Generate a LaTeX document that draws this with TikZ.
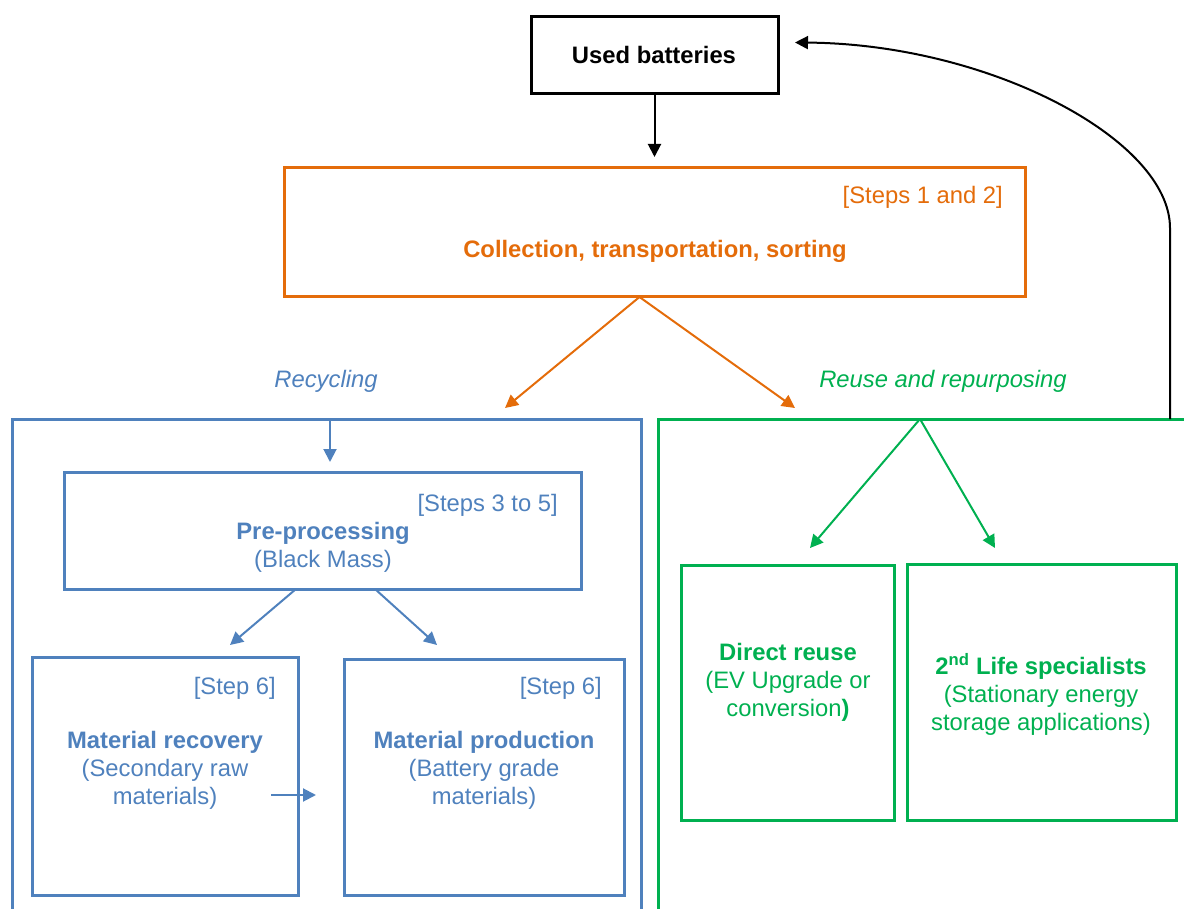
\documentclass[tikz,border=0pt]{standalone}
\usepackage{fontspec}
\setmainfont{Liberation Sans}
\usepackage{tikz}
\usetikzlibrary{arrows,arrows.meta,positioning,calc}
\definecolor{recblue}{HTML}{4F81BD}
\definecolor{collorange}{HTML}{E46C0A}
\definecolor{reusegreen}{HTML}{00B050}
\tikzstyle{stepbox}=[draw,line width=3pt,inner sep=0pt,outer sep=0pt]
\tikzstyle{txt}=[inner sep=0pt,align=center]
\tikzstyle{arr}=[line width=2pt,-{Triangle[length=13pt,width=13pt]}]

\begin{document}
\begin{tikzpicture}[x=1pt,y=-1pt,font=\fontsize{23.8}{28}\selectfont]
\useasboundingbox (0,0) rectangle (1184,909);
% used batteries and collection
\node [stepbox, minimum width=247pt, minimum height=77pt] (used) at (654.5,55.5) {};
\node [txt, anchor=base] (usedtext) at (654,64) {\textbf{Used batteries}};
\node [stepbox, draw=collorange, minimum width=741pt, minimum height=129pt] (coll) at (654.5,232.5) {};
\node [txt, anchor=base east, text=collorange] (collstep) at (1003,204) {[Steps 1 and 2]};
\node [txt, anchor=base, text=collorange] (colltext) at (655,258) {\textbf{Collection, transportation, sorting}};
\draw [arr, shorten >=11pt] (used) -- (coll);

% the two branches
\node [txt, anchor=base, text=recblue] (reclabel) at (326,388) {\itshape Recycling};
\node [txt, anchor=base, text=reusegreen] (reuselabel) at (943,388) {\itshape Reuse and repurposing};
\node [stepbox, draw=recblue, anchor=north west, minimum width=629pt, minimum height=600pt] (recycle) at (12,419) {};
\node [stepbox, draw=reusegreen, anchor=north west, minimum width=600pt, minimum height=600pt] (reuse) at (658,419) {};
\coordinate (split) at ($(coll.south)+(-15,0)$);
\coordinate (recin) at ($(recycle.north east)+(-136,-11)$);
\coordinate (reusein) at ($(reuse.north west)+(137,-11)$);
\draw [arr, collorange] (split) -- (recin);
\draw [arr, collorange] (split) -- (reusein);

% back to used batteries
\coordinate (back) at ($(reuse.north west)+(512,0)$);
\coordinate (usedin) at ($(used.east)+(17,-13)$);
\draw [arr] (back) -- (1170,228) .. controls (1170,140) and (990,44) .. (usedin);

% recycling
\node [stepbox, draw=recblue, minimum width=517pt, minimum height=117pt] (pre) at (322.5,530.5) {};
\node [txt, anchor=base east, text=recblue] (prestep) at (558,511) {[Steps 3 to 5]};
\node [txt, text=recblue] (pretext) at (323,547.5) {\textbf{Pre-processing}\\(Black Mass)};
\coordinate (recdown) at ($(recycle.north west)+(318,0)$);
\coordinate (prein) at ($(pre.north)+(7.5,-10)$);
\draw [arr, recblue] (recdown) -- (prein);

\node [stepbox, draw=recblue, minimum width=266pt, minimum height=238pt] (mrec) at (165,776) {};
\node [txt, anchor=base east, text=recblue] (mrecstep) at (276,694) {[Step 6]};
\node [txt, text=recblue] (mrectext) at (165,770) {\textbf{Material recovery}\\(Secondary raw\\materials)};
\node [stepbox, draw=recblue, minimum width=280pt, minimum height=236pt] (mprod) at (484,777) {};
\node [txt, anchor=base east, text=recblue] (mprodstep) at (602,694) {[Step 6]};
\node [txt, text=recblue] (mprodtext) at (484,770) {\textbf{Material production}\\(Battery grade\\materials)};

\coordinate (preleft) at ($(pre.south)+(-26.5,0)$);
\coordinate (preright) at ($(pre.south)+(52.5,0)$);
\coordinate (mrecin) at ($(mrec.north)+(65,-12)$);
\coordinate (mprodin) at ($(mprod.north)+(-47,-14)$);
\draw [arr, recblue] (preleft) -- (mrecin);
\draw [arr, recblue] (preright) -- (mprodin);
\coordinate (mrecout) at ($(mrec.east)+(-27,19)$);
\coordinate (mprodleft) at ($(mprod.west)+(-28,18)$);
\draw [arr, recblue] (mrecout) -- (mprodleft);

% reuse and repurposing
\node [stepbox, draw=reusegreen, minimum width=213pt, minimum height=255pt] (direct) at (787.5,692.5) {};
\node [txt, text=reusegreen] (directtext) at (788,682) {\textbf{Direct reuse}\\(EV Upgrade or\\conversion\textbf{)}};
\node [stepbox, draw=reusegreen, minimum width=269pt, minimum height=256pt] (life) at (1041.5,692) {};
\node [txt, text=reusegreen] (lifetext) at (1041,694) {\textbf{2\textsuperscript{nd} Life specialists}\\(Stationary energy\\storage applications)};
\coordinate (reusesplit) at ($(reuse.north west)+(262,0)$);
\coordinate (directin) at ($(direct.north)+(22.5,-17)$);
\coordinate (lifein) at ($(life.north)+(-46.5,-16)$);
\draw [arr, reusegreen] (reusesplit) -- (directin);
\draw [arr, reusegreen] (reusesplit) -- (lifein);
\end{tikzpicture}
\end{document}
